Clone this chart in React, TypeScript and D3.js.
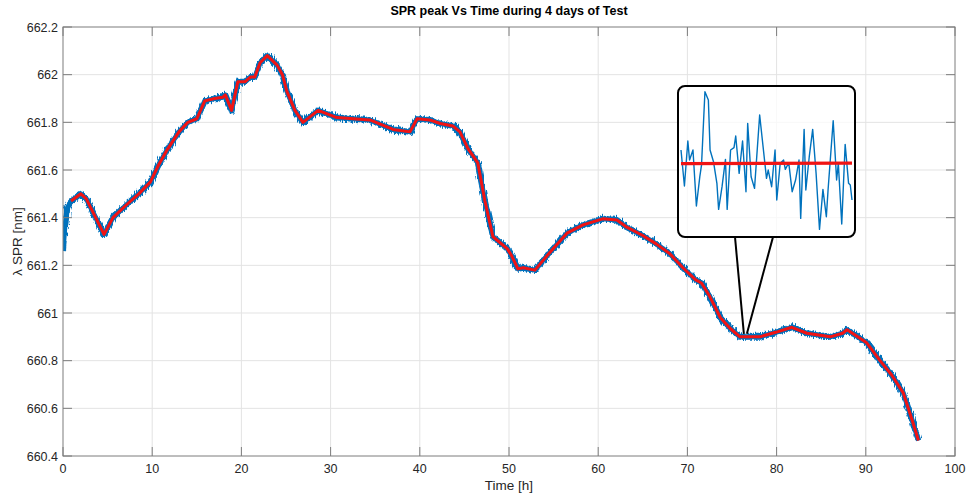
import React from "react";
import * as d3 from "d3";

// main trace (hours, nm)
const leadHours = [0, 0.2, 0.5];
const leadNm = [661.26, 661.36, 661.44];

const trendHours = [
  0.9, 2.0, 2.6, 4.6, 5.6, 7.0, 8.5, 9.8, 10.7, 11.6, 13.0, 14.0, 15.0, 15.9,
  17.0, 17.9, 18.2, 18.9, 19.6, 20.4, 21.0, 21.5, 22.1, 22.9, 24.0, 24.6, 25.1,
  26.0, 26.9, 28.6, 30.7, 34.4, 37.0, 38.9, 39.7, 41.1, 42.3, 43.7, 44.5, 45.4,
  46.5, 47.3, 48.2, 49.8, 50.3, 51.0, 51.6, 52.9, 54.6, 56.5, 58.3, 60.5, 62.1,
  63.2, 65.0, 66.5, 68.0, 69.5, 70.9, 71.6, 72.5, 73.7, 74.8, 75.9, 78.1, 80.0,
  81.7, 83.4, 86.0, 87.4, 87.9, 90.1, 91.6, 92.9, 94.2, 95.2, 95.9,
];
const trendNm = [
  661.47, 661.5, 661.48, 661.33, 661.4, 661.45, 661.5, 661.55, 661.62, 661.68,
  661.76, 661.8, 661.815, 661.89, 661.9, 661.905, 661.915, 661.85, 661.97,
  661.97, 661.99, 661.99, 662.05, 662.08, 662.04, 662.0, 661.93, 661.85, 661.8,
  661.85, 661.82, 661.81, 661.77, 661.76, 661.815, 661.81, 661.795, 661.785,
  661.76, 661.69, 661.63, 661.47, 661.32, 661.27, 661.24, 661.185, 661.19,
  661.18, 661.255, 661.335, 661.37, 661.395, 661.39, 661.36, 661.325, 661.29,
  661.25, 661.19, 661.14, 661.125, 661.07, 660.98, 660.935, 660.9, 660.9,
  660.92, 660.94, 660.915, 660.9, 660.915, 660.93, 660.875, 660.8, 660.74,
  660.665, 660.55, 660.465,
];

// zoomed inset: sample position and offset from the trend
const insetPos = [
  0, 2, 4, 5, 7, 9, 11, 12, 14, 16, 17, 19, 21, 22, 24, 26, 27, 29, 31, 32, 34,
  36, 38, 39, 41, 43, 46, 50, 51, 53, 55, 56, 58, 60, 61, 63, 65, 67, 69, 70,
  72, 73, 75, 77, 79, 81, 83, 85, 86, 89, 91, 92, 94, 96, 98, 99, 100,
];
const insetSignal = [
  4.0, -6.8, 6.7, 1.0, 4.0, -12.8, -4.0, -0.5, 21.5, 19.0, 4.0, 0.5, -6.0,
  -13.8, -7.0, 1.2, -13.8, 4.0, 4.7, 8.2, -3.0, 6.7, -8.5, 12.0, -4.0, -7.5,
  14.5, -4.5, -2.0, -7.0, 4.0, -11.0, 0, 1.0, -1.8, 0.2, -8.5, -5.0, 1.0, -16.5,
  10.2, -8.0, 2.0, 10.2, -3.0, -19.8, -7.8, -16.0, -8.0, 12.8, -5.0, 0, -18.2,
  5.7, -6.0, -6.5, -11.0,
];
const insetTrendPos = [0, 100];
const insetTrend = [-0.1, 0.1];

const xTicks = [0, 10, 20, 30, 40, 50, 60, 70, 80, 90, 100];
const yTicks = [660.4, 660.6, 660.8, 661, 661.2, 661.4, 661.6, 661.8, 662, 662.2];
const yTickLabels = ["660.4", "660.6", "660.8", "661", "661.2", "661.4", "661.6", "661.8", "662", "662.2"];

const BLUE = "#0072BD";
const RED = "#F01414";
const FONT = "'Liberation Sans', Arial, sans-serif";

export default function App() {
  const width = 968;
  const height = 495;
  const plot = { left: 63, right: 955, top: 27, bottom: 456 };

  const x = d3.scaleLinear().domain([0, 100]).range([plot.left, plot.right]);
  const y = d3.scaleLinear().domain([660.4, 662.2]).range([plot.bottom, plot.top]);

  const line = d3
    .line<[number, number]>()
    .x((d) => x(d[0]))
    .y((d) => y(d[1]));

  const trend: [number, number][] = trendHours.map((h, i) => [h, trendNm[i]]);
  const raw: [number, number][] = [
    ...leadHours.map((h, i) => [h, leadNm[i]] as [number, number]),
    ...trend,
  ];

  // inset box
  const box = { left: 678, right: 855, top: 86, bottom: 237 };
  const ix = d3.scaleLinear().domain([0, 100]).range([681, 852]);
  const iy = d3.scaleLinear().domain([-22, 23]).range([236.7, 86.7]);
  const insetLine = d3
    .line<[number, number]>()
    .x((d) => ix(d[0]))
    .y((d) => iy(d[1]));
  const insetRaw: [number, number][] = insetPos.map((p, i) => [p, insetSignal[i]]);
  const insetRed: [number, number][] = insetTrendPos.map((p, i) => [p, insetTrend[i]]);

  // where the callout points on the trace
  const anchorHour = 76.5;
  const anchor = { x: x(anchorHour), y: y(660.9) };

  return (
    <svg
      width={width}
      height={height}
      style={{ position: "absolute", left: 0, top: 0, background: "#fff" }}
    >
      <defs>
        <filter id="fuzz" filterUnits="userSpaceOnUse" x={0} y={0} width={width} height={height}>
          <feTurbulence type="fractalNoise" baseFrequency="1.1 0.1" numOctaves={2} seed={4} result="n" />
          <feDisplacementMap in="SourceGraphic" in2="n" scale={7} xChannelSelector="R" yChannelSelector="G" />
        </filter>
        <clipPath id="plotClip">
          <rect x={plot.left} y={plot.top} width={plot.right - plot.left} height={plot.bottom - plot.top} />
        </clipPath>
      </defs>
      <rect width={width} height={height} fill="#fff" />

      {/* grid */}
      <g stroke="#e3e3e3" strokeWidth={1}>
        {xTicks.slice(1, -1).map((t) => (
          <line key={t} x1={x(t)} x2={x(t)} y1={plot.top} y2={plot.bottom} />
        ))}
        {yTicks.slice(1, -1).map((t) => (
          <line key={t} x1={plot.left} x2={plot.right} y1={y(t)} y2={y(t)} />
        ))}
      </g>

      {/* traces */}
      <g clipPath="url(#plotClip)">
        <path d={line(raw) ?? ""} fill="none" stroke={BLUE} strokeWidth={6} strokeLinejoin="round" filter="url(#fuzz)" />
        <path d={line(raw) ?? ""} fill="none" stroke={BLUE} strokeWidth={5} strokeLinejoin="round" />
        <path d={line(trend) ?? ""} fill="none" stroke={RED} strokeWidth={3} strokeLinejoin="round" />
      </g>

      {/* axes box and ticks */}
      <g stroke="#7d7d7d" strokeWidth={1} fill="none">
        <rect x={plot.left} y={plot.top} width={plot.right - plot.left} height={plot.bottom - plot.top} />
        {xTicks.map((t) => (
          <g key={t}>
            <line x1={x(t)} x2={x(t)} y1={plot.bottom} y2={plot.bottom - 9} />
            <line x1={x(t)} x2={x(t)} y1={plot.top} y2={plot.top + 9} />
          </g>
        ))}
        {yTicks.map((t) => (
          <g key={t}>
            <line x1={plot.left} x2={plot.left + 9} y1={y(t)} y2={y(t)} />
            <line x1={plot.right} x2={plot.right - 9} y1={y(t)} y2={y(t)} />
          </g>
        ))}
      </g>

      <g fontFamily={FONT} fontSize={12.5} fill="#262626">
        {xTicks.map((t) => (
          <text key={t} x={x(t)} y={plot.bottom + 17} textAnchor="middle">
            {t}
          </text>
        ))}
        {yTicks.map((t, i) => (
          <text key={t} x={plot.left - 5} y={y(t) + 4.5} textAnchor="end">
            {yTickLabels[i]}
          </text>
        ))}
      </g>

      <text x={509} y={15} textAnchor="middle" fontFamily={FONT} fontSize={12.5} fontWeight="bold" fill="#000">
        SPR peak Vs Time during 4 days of Test
      </text>
      <text x={509} y={490} textAnchor="middle" fontFamily={FONT} fontSize={13.5} fill="#262626">
        Time [h]
      </text>
      <text
        transform={`translate(22, ${(plot.top + plot.bottom) / 2}) rotate(-90)`}
        textAnchor="middle"
        fontFamily={FONT}
        fontSize={13.5}
        fill="#262626"
      >
        λ SPR [nm]
      </text>

      {/* callout */}
      <g stroke="#000" strokeWidth={2}>
        <line x1={735} y1={box.bottom} x2={anchor.x - 1.5} y2={anchor.y - 3} />
        <line x1={773} y1={box.bottom} x2={anchor.x + 1.5} y2={anchor.y - 3} />
      </g>
      <rect
        x={box.left}
        y={box.top}
        width={box.right - box.left}
        height={box.bottom - box.top}
        rx={7}
        fill="#fff"
        fillOpacity={0.75}
        stroke="#000"
        strokeWidth={2}
      />
      <path d={insetLine(insetRaw) ?? ""} fill="none" stroke={BLUE} strokeWidth={1.4} strokeLinejoin="round" />
      <path d={insetLine(insetRed) ?? ""} fill="none" stroke={RED} strokeWidth={3.2} />
    </svg>
  );
}
